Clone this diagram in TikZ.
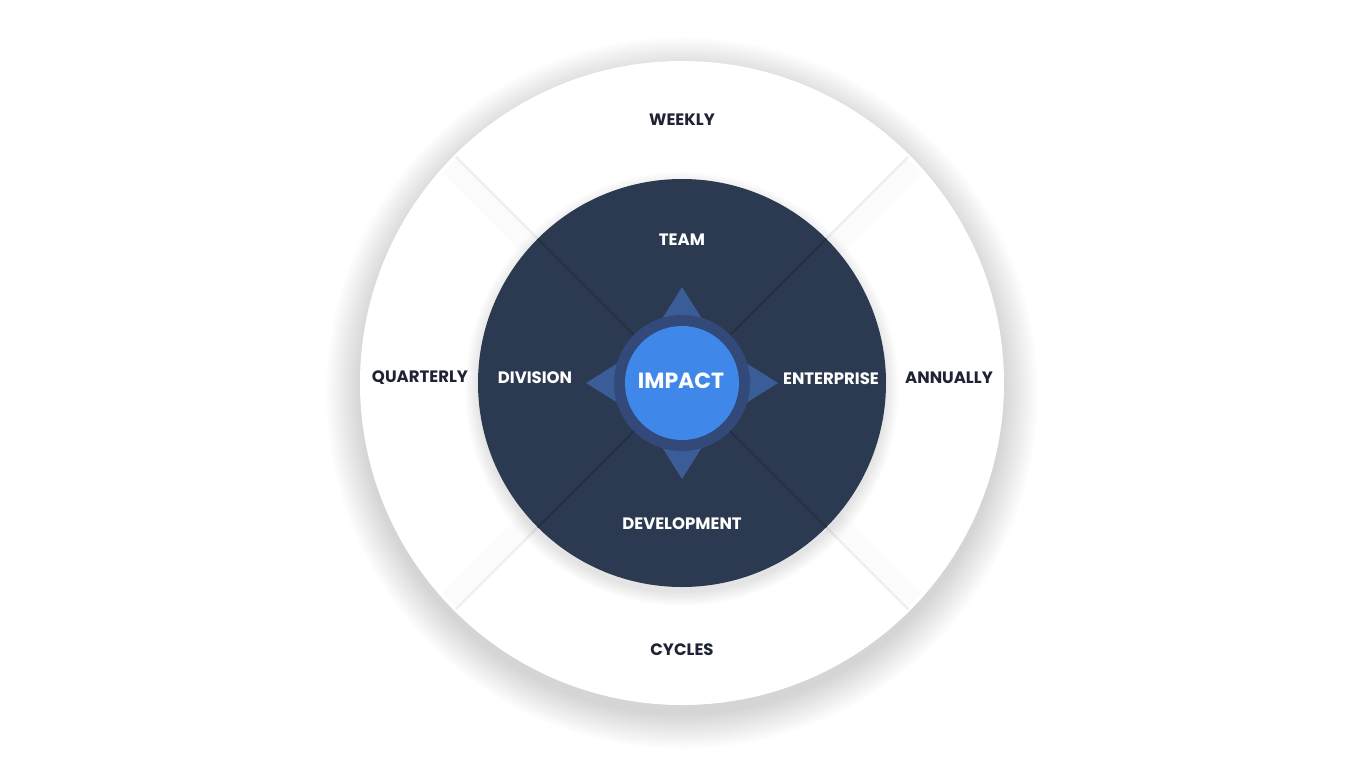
\documentclass[tikz,border=0pt]{standalone}
\usepackage{fontspec}
\setmainfont{Poppins}
\usetikzlibrary{positioning}
\definecolor{navy}{HTML}{2C3A51}
\definecolor{navyline}{HTML}{253047}
\definecolor{inkc}{HTML}{1E2335}
\definecolor{starc}{HTML}{3A5C97}
\definecolor{ringc}{HTML}{32497A}
\definecolor{impactc}{HTML}{4087EA}
\tikzset{
  outertxt/.style={font=\fontsize{9.4}{10}\selectfont\bfseries, text=inkc},
  innertxt/.style={font=\fontsize{9.4}{10}\selectfont\bfseries, text=white},
  hubtxt/.style={font=\fontsize{12.5}{13}\selectfont\bfseries, text=white},
  divider/.style={line width=1.5, gray!12},
  cross/.style={line width=1.2, navyline}
}

\begin{document}
\begin{tikzpicture}[x=0.02cm, y=0.02cm]
    \useasboundingbox (-682,-385) rectangle (683,383);
    \fill[white] (-682,-385) rectangle (683,383);

%shadow
    \foreach \r in {0,2,...,40}
        \fill[black, opacity=0.008] (0,-10) circle (322+\r*0.85);

%outer ring
    \fill[white] (0,0) circle (322);
    \foreach \a in {45,135,225,315}
        \draw[divider] (\a:204) -- (\a:320);
    \foreach \d in {1,...,8}
        \foreach \a/\s in {45/-1,135/1,225/-1,315/1}
            \draw[black, opacity=0.009, line width=2.5] ([shift={(\a+90*\s:\d*2.5)}]\a:204) -- ([shift={(\a+90*\s:\d*2.5)}]\a:318);
    \foreach \r in {0,2,...,16}
        \fill[black, opacity=0.012] (0,-6) circle (204+\r*0.8);

%inner disc
    \fill[navy] (0,0) circle (204);
    \draw[cross] (45:204) -- (225:204);
    \draw[cross] (135:204) -- (315:204);

%compass
    \fill[starc] (0,96) -- (-37,37) -- (-96,0) -- (-37,-37) -- (0,-96) -- (37,-37) -- (96,0) -- (37,37) -- cycle;
    \fill[ringc] (0,0) circle (68);
    \fill[impactc] (0,0) circle (57);

    %labels outer
    \node[outertxt] (weekly) at (0,263) {WEEKLY};
    \node[outertxt] (cycles) at (0,-267) {CYCLES};
    \node[outertxt] (quarterly) at (-262,5) {QUARTERLY};
    \node[outertxt] (annually) at (267,5) {ANNUALLY};

    %labels inner
    \node[innertxt] (team) at (0,143) {TEAM};
    \node[innertxt] (development) at (0,-141) {DEVELOPMENT};
    \node[innertxt] (division) at (-147,5) {DIVISION};
    \node[innertxt] (enterprise) at (149,4) {ENTERPRISE};
    \node[hubtxt] (impact) at (-1,2) {IMPACT};
\end{tikzpicture}
\end{document}
